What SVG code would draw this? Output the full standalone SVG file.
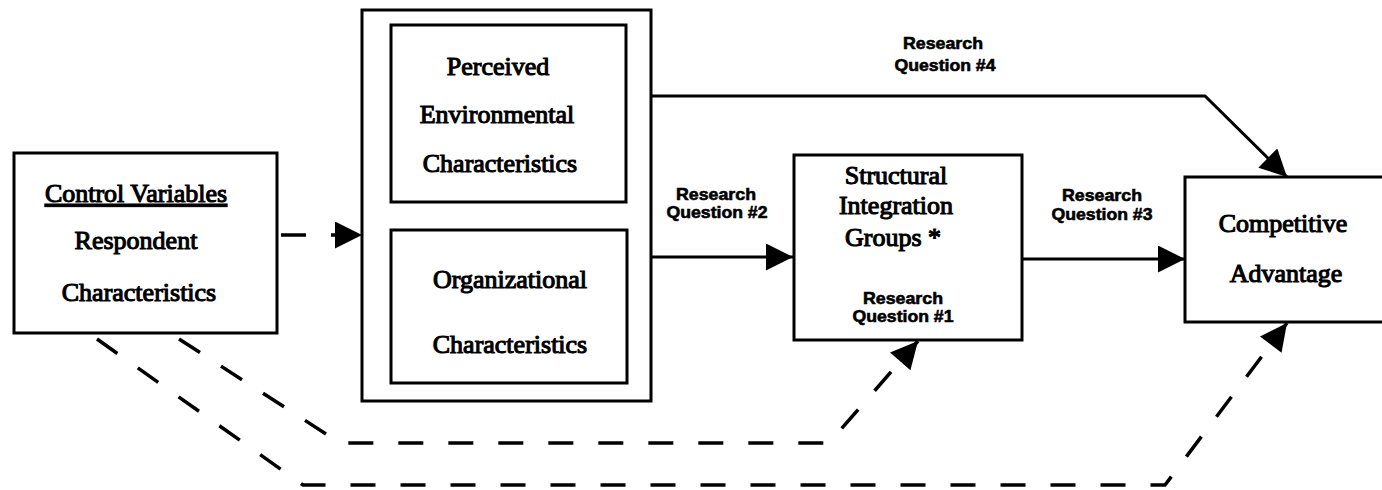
<svg xmlns="http://www.w3.org/2000/svg" width="1382" height="490" viewBox="0 0 1382 490">
  <defs>
    <style>
      .box { fill: #fff; stroke: #000; stroke-width: 3; }
      .lbl { font-family: "Liberation Serif", "Times New Roman", serif; font-size: 26px; font-weight: normal; fill: #000; stroke: #000; stroke-width: 1.1; text-anchor: middle; }
      .rq { font-family: "Liberation Sans", Arial, sans-serif; font-size: 17px; font-weight: bold; fill: #000; stroke: #000; stroke-width: 0.6; text-anchor: middle; }
      .link { fill: none; stroke: #000; stroke-width: 3; }
      .dash { fill: none; stroke: #000; stroke-width: 3.5; stroke-dasharray: 25 25; }
    </style>
    <marker id="head" viewBox="0 0 10 10" refX="10" refY="5" markerUnits="userSpaceOnUse" markerWidth="35" markerHeight="27" orient="auto">
      <path d="M0,0 L10,5 L0,10 z" fill="#000"/>
    </marker>
  </defs>

  <rect width="1382" height="490" fill="#fff"/>

  <!-- connectors -->
  <g id="connectors">
    <!-- control variables to the characteristics block -->
    <path class="dash" d="M281,235 L362,235" stroke-dasharray="24 100" marker-end="url(#head)"/>
    <!-- research question #2 -->
    <path class="link" d="M651,257 L793,257" marker-end="url(#head)"/>
    <!-- research question #3 -->
    <path class="link" d="M1022,259 L1185,259" marker-end="url(#head)"/>
    <!-- research question #4 -->
    <path class="link" d="M651,96 L1205,96 L1287,177" marker-end="url(#head)"/>
    <!-- control variables to structural integration groups -->
    <path class="dash" d="M179,339 L340,443 L829,443 L918,341" marker-end="url(#head)"/>
    <!-- control variables to competitive advantage -->
    <path class="dash" d="M97,339 L303,485 L1165,485 L1287,323" marker-end="url(#head)"/>
  </g>

  <g id="rq-labels">
    <text class="rq" x="943" y="49" textLength="80" lengthAdjust="spacingAndGlyphs">Research</text>
    <text class="rq" x="945" y="71" textLength="101" lengthAdjust="spacingAndGlyphs">Question #4</text>
    <text class="rq" x="716" y="200" textLength="80" lengthAdjust="spacingAndGlyphs">Research</text>
    <text class="rq" x="717" y="218" textLength="101" lengthAdjust="spacingAndGlyphs">Question #2</text>
    <text class="rq" x="1102" y="201" textLength="80" lengthAdjust="spacingAndGlyphs">Research</text>
    <text class="rq" x="1102" y="220" textLength="101" lengthAdjust="spacingAndGlyphs">Question #3</text>
  </g>

  <!-- control variables -->
  <g id="control">
    <rect class="box" x="14" y="153" width="263" height="180"/>
    <text class="lbl" x="136" y="202" text-decoration="underline">Control Variables</text>
    <text class="lbl" x="136" y="249">Respondent</text>
    <text class="lbl" x="139" y="301">Characteristics</text>
  </g>

  <!-- outer block holding both characteristic sets -->
  <g id="characteristics">
    <rect class="box" x="362" y="10" width="289" height="391"/>
    <g id="environmental">
      <rect class="box" x="391" y="25" width="235" height="177"/>
      <text class="lbl" x="498" y="75">Perceived</text>
      <text class="lbl" x="497" y="123">Environmental</text>
      <text class="lbl" x="500" y="172">Characteristics</text>
    </g>
    <g id="organizational">
      <rect class="box" x="391" y="230" width="236" height="153"/>
      <text class="lbl" x="510" y="288">Organizational</text>
      <text class="lbl" x="510" y="353">Characteristics</text>
    </g>
  </g>

  <!-- structural integration groups -->
  <g id="structural">
    <rect class="box" x="794" y="155" width="228" height="185"/>
    <text class="lbl" x="896" y="184">Structural</text>
    <text class="lbl" x="896" y="214">Integration</text>
    <text class="lbl" x="893" y="246">Groups *</text>
    <text class="rq" x="903" y="304" textLength="80" lengthAdjust="spacingAndGlyphs">Research</text>
    <text class="rq" x="903" y="322" textLength="101" lengthAdjust="spacingAndGlyphs">Question #1</text>
  </g>

  <!-- competitive advantage -->
  <g id="competitive">
    <rect class="box" x="1185" y="177" width="210" height="145"/>
    <text class="lbl" x="1283" y="232">Competitive</text>
    <text class="lbl" x="1286" y="282">Advantage</text>
  </g>
</svg>
